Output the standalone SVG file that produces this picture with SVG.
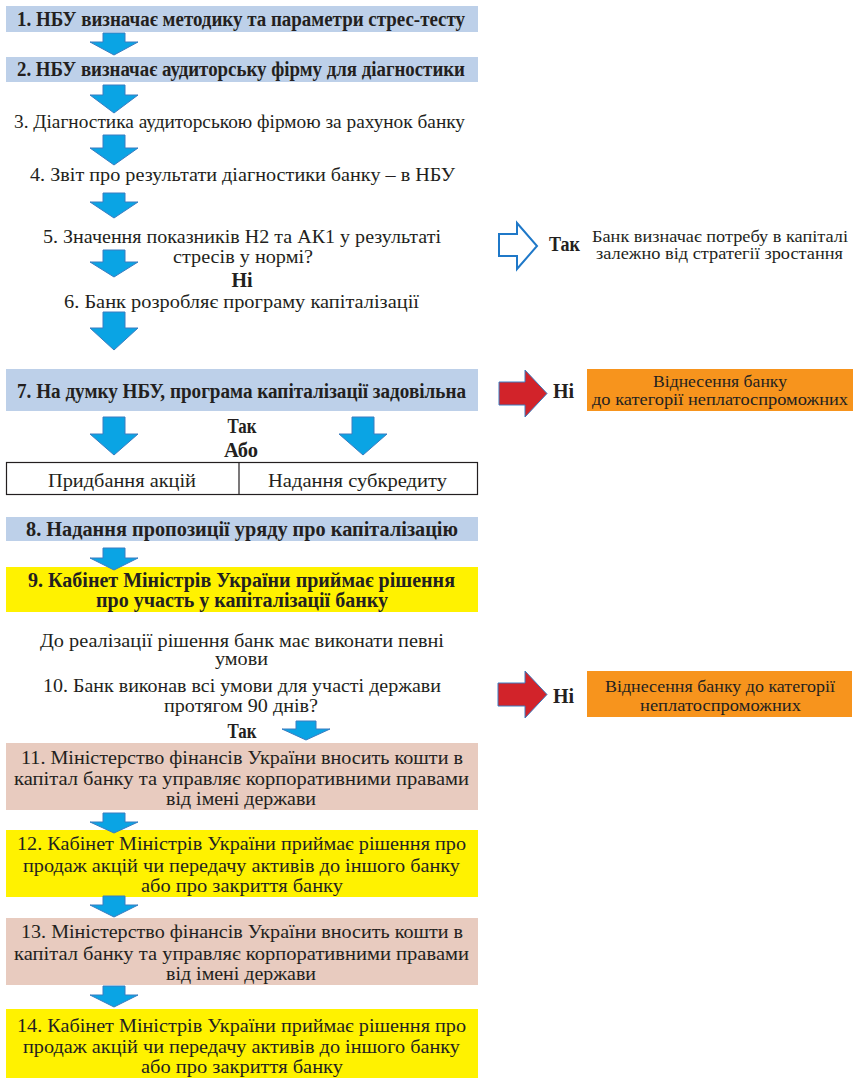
<svg xmlns="http://www.w3.org/2000/svg" width="854" height="1078" viewBox="0 0 854 1078">
<style>
text{font-family:"Liberation Serif","DejaVu Serif",serif;fill:#231f20;text-anchor:middle}
.b{font-weight:bold;font-size:20px}
.r{font-size:19px}
.t{font-size:18px}
.m{font-size:19px}
.s{font-size:17px}
.o{font-size:17px}
.st{text-anchor:start}
.blue{fill:#bdd0e9}
.yel{fill:#fff200}
.pink{fill:#e8cbbf}
.org{fill:#f7941d}
.arr{fill:#0aa4e4;stroke:#3a7cc0;stroke-width:1}
.red{fill:#d2232a;stroke:#3a7cc0;stroke-width:1}
.hol{fill:#fff;stroke:#1f78c8;stroke-width:2}
</style>
<rect width="854" height="1078" fill="#fff"/>
<g id="n1"><rect class="blue" x="6" y="6" width="472" height="26"/><text class="b" x="241" y="26" textLength="448" lengthAdjust="spacingAndGlyphs">1. НБУ визначає методику та параметри стрес-тесту</text></g>
<g id="n2"><rect class="blue" x="6" y="57" width="472" height="25"/><text class="b" x="241" y="76" textLength="448" lengthAdjust="spacingAndGlyphs">2. НБУ визначає аудиторську фірму для діагностики</text></g>
<g id="n3"><text class="r" x="239.5" y="128" textLength="451" lengthAdjust="spacingAndGlyphs">3. Діагностика аудиторською фірмою за рахунок банку</text></g>
<g id="n4"><text class="r" x="242.5" y="181" textLength="425" lengthAdjust="spacingAndGlyphs">4. Звіт про результати діагностики банку – в НБУ</text></g>
<g id="n5"><text class="r" x="242" y="243" textLength="398" lengthAdjust="spacingAndGlyphs">5. Значення показників Н2 та АК1 у результаті</text><text class="r" x="243" y="263" textLength="140" lengthAdjust="spacingAndGlyphs">стресів у нормі?</text><text class="b" x="242" y="287">Ні</text></g>
<g id="n6"><text class="r" x="241.5" y="308" textLength="355" lengthAdjust="spacingAndGlyphs">6. Банк розробляє програму капіталізації</text></g>
<g id="nYes"><text class="b st" x="549" y="251" textLength="31" lengthAdjust="spacingAndGlyphs">Так</text><text class="s" x="720" y="242" textLength="256" lengthAdjust="spacingAndGlyphs">Банк визначає потребу в капіталі</text><text class="s" x="719.5" y="259" textLength="247" lengthAdjust="spacingAndGlyphs">залежно від стратегії зростання</text></g>
<g id="n7"><rect class="blue" x="6" y="369" width="472" height="42"/><text class="b" x="241.5" y="398" textLength="449" lengthAdjust="spacingAndGlyphs">7. На думку НБУ, програма капіталізації задовільна</text><text class="b" x="242" y="433" textLength="29" lengthAdjust="spacingAndGlyphs">Так</text><text class="b" x="241" y="457" textLength="34" lengthAdjust="spacingAndGlyphs">Або</text></g>
<g id="nNo1"><text class="b st" x="553" y="398">Ні</text><rect class="org" x="587" y="369" width="266" height="42"/><text class="o" x="720" y="387" textLength="134" lengthAdjust="spacingAndGlyphs">Віднесення банку</text><text class="o" x="720" y="405" textLength="256" lengthAdjust="spacingAndGlyphs">до категорії неплатоспроможних</text></g>
<g id="nTable"><rect x="6.5" y="462.5" width="471" height="32" fill="#fff" stroke="#231f20" stroke-width="1.2"/><line x1="239" y1="462.5" x2="239" y2="494.5" stroke="#231f20" stroke-width="1.2"/><text class="r" x="122" y="487" textLength="148" lengthAdjust="spacingAndGlyphs">Придбання акцій</text><text class="r" x="357.5" y="487" textLength="179" lengthAdjust="spacingAndGlyphs">Надання субкредиту</text></g>
<g id="n8"><rect class="blue" x="6" y="517" width="472" height="24"/><text class="b" x="242" y="536" textLength="432" lengthAdjust="spacingAndGlyphs">8. Надання пропозиції уряду про капіталізацію</text></g>
<g id="n9"><rect class="yel" x="6" y="567" width="472" height="45"/><text class="b" x="241.5" y="587" textLength="427" lengthAdjust="spacingAndGlyphs">9. Кабінет Міністрів України приймає рішення</text><text class="b" x="242" y="607" textLength="292" lengthAdjust="spacingAndGlyphs">про участь у капіталізації банку</text></g>
<g id="n10"><text class="t" x="242" y="647" textLength="404" lengthAdjust="spacingAndGlyphs">До реалізації рішення банк має виконати певні</text><text class="t" x="241.5" y="665" textLength="53" lengthAdjust="spacingAndGlyphs">умови</text><text class="r" x="242" y="692" textLength="398" lengthAdjust="spacingAndGlyphs">10. Банк виконав всі умови для участі держави</text><text class="r" x="241" y="712" textLength="154" lengthAdjust="spacingAndGlyphs">протягом 90 днів?</text><text class="b" x="242" y="738" textLength="29" lengthAdjust="spacingAndGlyphs">Так</text></g>
<g id="nNo2"><text class="b st" x="553" y="703">Ні</text><rect class="org" x="587" y="671" width="265" height="46"/><text class="o" x="720" y="692" textLength="230" lengthAdjust="spacingAndGlyphs">Віднесення банку до категорії</text><text class="o" x="720.5" y="711" textLength="161" lengthAdjust="spacingAndGlyphs">неплатоспроможних</text></g>
<g id="n11"><rect class="pink" x="6" y="743" width="472" height="67"/><text class="m" x="242" y="764" textLength="442" lengthAdjust="spacingAndGlyphs">11. Міністерство фінансів України вносить кошти в</text><text class="m" x="241.5" y="785" textLength="455" lengthAdjust="spacingAndGlyphs">капітал банку та управляє корпоративними правами</text><text class="m" x="241" y="805" textLength="150" lengthAdjust="spacingAndGlyphs">від імені держави</text></g>
<g id="n12"><rect class="yel" x="6" y="830" width="472" height="67"/><text class="m" x="241.5" y="850" textLength="449" lengthAdjust="spacingAndGlyphs">12. Кабінет Міністрів України приймає рішення про</text><text class="m" x="241.5" y="872" textLength="437" lengthAdjust="spacingAndGlyphs">продаж акцій чи передачу активів до іншого банку</text><text class="m" x="242" y="892" textLength="202" lengthAdjust="spacingAndGlyphs">або про закриття банку</text></g>
<g id="n13"><rect class="pink" x="6" y="918" width="472" height="67"/><text class="m" x="242" y="938" textLength="442" lengthAdjust="spacingAndGlyphs">13. Міністерство фінансів України вносить кошти в</text><text class="m" x="241.5" y="960" textLength="455" lengthAdjust="spacingAndGlyphs">капітал банку та управляє корпоративними правами</text><text class="m" x="241" y="980" textLength="150" lengthAdjust="spacingAndGlyphs">від імені держави</text></g>
<g id="n14"><rect class="yel" x="6" y="1009" width="472" height="69"/><text class="m" x="241.5" y="1032" textLength="449" lengthAdjust="spacingAndGlyphs">14. Кабінет Міністрів України приймає рішення про</text><text class="m" x="241.5" y="1053" textLength="437" lengthAdjust="spacingAndGlyphs">продаж акцій чи передачу активів до іншого банку</text><text class="m" x="242" y="1073" textLength="202" lengthAdjust="spacingAndGlyphs">або про закриття банку</text></g>
<g id="connectors">
<path class="arr" d="M103,33H125V42H138L114,55L90,42H103Z"/>
<path class="arr" d="M103,85H125V95H138L114,113L90,95H103Z"/>
<path class="arr" d="M103,135H125V148H138L114,165L90,148H103Z"/>
<path class="arr" d="M103,193H125V202H138L114,218L90,202H103Z"/>
<path class="arr" d="M103,250H125V262H138L114,277L90,262H103Z"/>
<path class="arr" d="M103,312H125V328H138L114,350L90,328H103Z"/>
<path class="arr" d="M103,417H125V434H138L114,455L90,434H103Z"/>
<path class="arr" d="M352,417H374V434H387L363,455L339,434H352Z"/>
<path class="arr" d="M103,548H125V558H138L114,570L90,558H103Z"/>
<path class="arr" d="M296,721H316V729H330L306,740L282,729H296Z"/>
<path class="arr" d="M103,813H125V822H138L114,833L90,822H103Z"/>
<path class="arr" d="M103,896H125V905H138L114,917L90,905H103Z"/>
<path class="arr" d="M103,986H125V995H138L114,1007L90,995H103Z"/>
<path class="hol" d="M499,234H517V223L537,246L517,269V256H499Z"/>
<path class="red" d="M499,382H525V370L547,393.5L525,417V405H499Z"/>
<path class="red" d="M498,683H525V671L547,694.5L525,718V706H498Z"/>
</g>
</svg>
